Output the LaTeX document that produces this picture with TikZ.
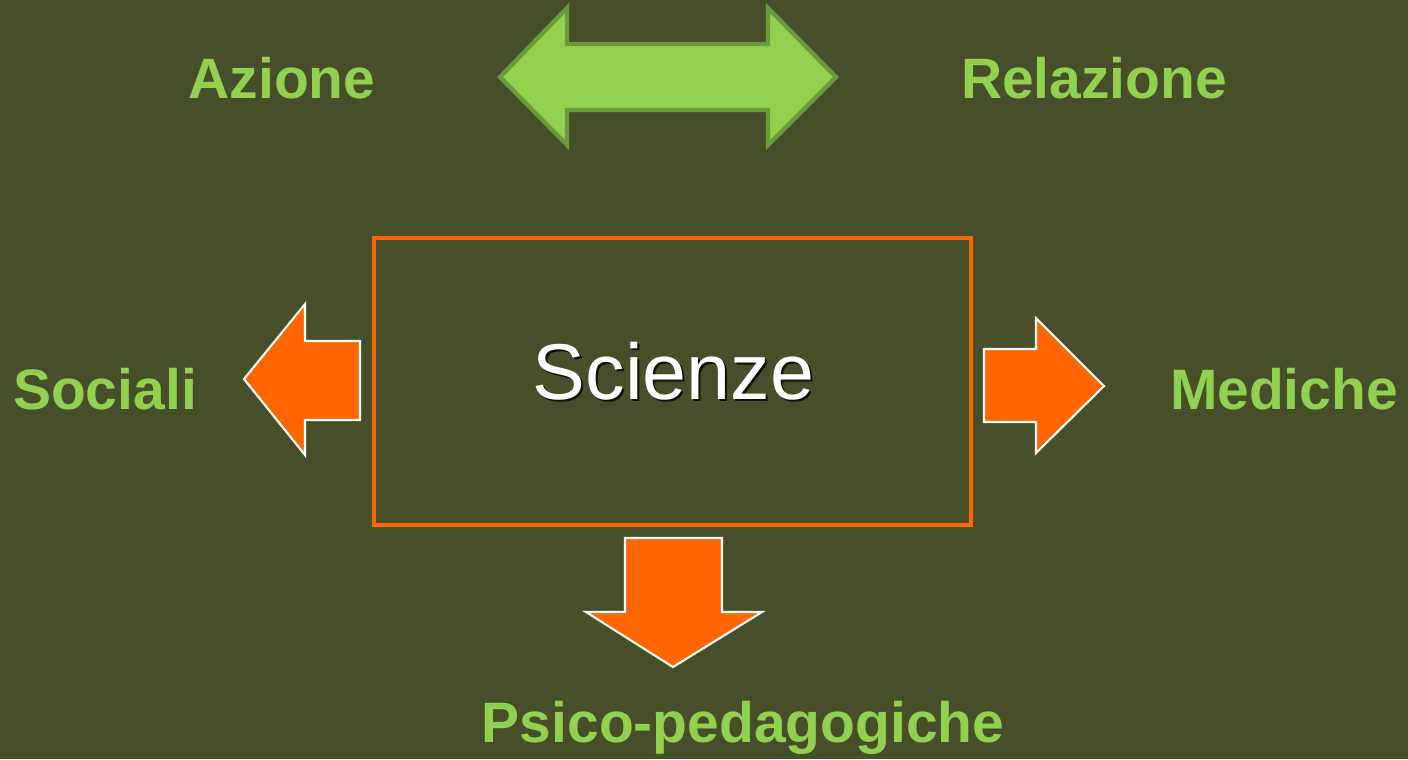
\documentclass[tikz,border=0pt]{standalone}
\usepackage{fontspec}
\setmainfont{Liberation Sans}
\definecolor{bg}{HTML}{474F2A}
\definecolor{lgreen}{HTML}{92D050}
\definecolor{dgreen}{HTML}{6A9B3A}
\definecolor{orng}{HTML}{FF6600}
\tikzset{
  lbl/.style={text=lgreen, font=\fontsize{16.2pt}{18pt}\selectfont\bfseries, inner sep=0pt},
  oarrow/.style={fill=orng, draw=white, line width=0.6pt, line join=miter},
  garrow/.style={fill=lgreen, draw=dgreen, line width=1.2pt, line join=miter},
  title/.style={font=\fontsize{22.5pt}{26pt}\selectfont, inner sep=0pt},
}
\begin{document}
\begin{tikzpicture}[x=0.01cm,y=-0.01cm]
\fill[bg] (0,0) rectangle (1408,759);
\useasboundingbox (0,0) rectangle (1408,759);
% double arrow
\draw[garrow] (500,77) -- (567,8) -- (567,44) -- (768,44) -- (768,8) -- (836,77) -- (768,145) -- (768,110) -- (567,110) -- (567,145) -- cycle;
% box
\node[draw=orng, line width=1.15pt, minimum width=5.97cm, minimum height=2.87cm, inner sep=0pt, outer sep=0pt] (box) at (672.5,381.5) {};
\node[title, text=black!80!bg] (scs) at (675.5,373.5) {Scienze};
\node[title, text=white] (sc) at (673.5,371.5) {Scienze};
% orange arrows
\draw[oarrow] (244,379) -- (305,304) -- (305,341) -- (360,341) -- (360,420) -- (305,420) -- (305,455) -- cycle;
\draw[oarrow] (1104,386) -- (1036,318) -- (1036,349) -- (984,349) -- (984,422) -- (1036,422) -- (1036,453) -- cycle;
\draw[oarrow] (673,667) -- (586,612) -- (625,612) -- (625,538) -- (722,538) -- (722,612) -- (762,612) -- cycle;
% labels
\node[lbl] (az) at (282,78) {Azione};
\node[lbl] (rel) at (1094,78) {Relazione};
\node[lbl] (soc) at (105,389) {Sociali};
\node[lbl] (med) at (1284,389) {Mediche};
\node[lbl] (psi) at (743,728) {Psico-pedagogiche};
\end{tikzpicture}
\end{document}
